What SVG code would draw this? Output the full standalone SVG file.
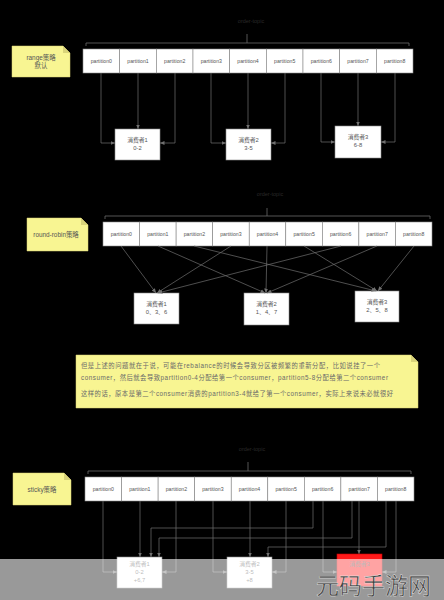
<svg xmlns="http://www.w3.org/2000/svg" width="444" height="600" viewBox="0 0 444 600">
<defs>
<marker id="ah" viewBox="0 0 10 10" refX="9" refY="5" markerWidth="5" markerHeight="5" orient="auto" markerUnits="userSpaceOnUse">
<path d="M0,1 L9,5 L0,9 z" fill="#707070"/>
</marker>
<style>
.bg{fill:#000}
.part{fill:#fff;stroke:#8a8a8a;stroke-width:0.6}
.pt{font-family:"Liberation Sans",Arial,sans-serif;font-size:5.2px;fill:#555;text-anchor:middle}
.cons{fill:#fff;stroke:#8a8a8a;stroke-width:0.6}
.ct{font-family:"Liberation Sans","Noto Sans CJK SC",sans-serif;font-size:5.8px;fill:#555;text-anchor:middle}
.note{fill:#f8f592;stroke:#d8d070;stroke-width:0.5}
.fold{fill:#d9d47a}
.nt{font-family:"Liberation Sans","Noto Sans CJK SC",sans-serif;font-size:6.4px;fill:#555;text-anchor:middle}
.lt{font-family:"Liberation Sans","Noto Sans CJK SC",sans-serif;font-size:6.3px;fill:#6a6a6a}
.conn{fill:none;stroke:#707070;stroke-width:0.7}
.br{fill:none;stroke:#6a6a6a;stroke-width:0.8}
.top{font-family:"Liberation Sans",Arial,sans-serif;font-size:5.5px;fill:#2a2a2a;text-anchor:middle}
</style>
</defs>
<rect class="bg" x="0" y="0" width="444" height="600"/>

<!-- Section 1: range -->
<g id="note-range">
<path class="note" d="M12 46 H63 L70 53 V77 H12 Z"/>
<path class="fold" d="M63 46 V53 H70 Z"/>
<text class="nt" x="41" y="60">range策略</text>
<text class="nt" x="41" y="68">默认</text>
</g>
<g id="topic1">
<text class="top" x="251" y="23">order-topic</text>
<path class="br" d="M86 46 V43 H409 V46 M247 43 V34"/>
</g>
<g id="partitions1">
<g id="r-p0"><rect class="part" x="83" y="49" width="36.67" height="24"/><text class="pt" x="101.3" y="63">partition0</text></g>
<g id="r-p1"><rect class="part" x="119.67" y="49" width="36.67" height="24"/><text class="pt" x="138" y="63">partition1</text></g>
<g id="r-p2"><rect class="part" x="156.33" y="49" width="36.67" height="24"/><text class="pt" x="174.7" y="63">partition2</text></g>
<g id="r-p3"><rect class="part" x="193" y="49" width="36.67" height="24"/><text class="pt" x="211.3" y="63">partition3</text></g>
<g id="r-p4"><rect class="part" x="229.67" y="49" width="36.67" height="24"/><text class="pt" x="248" y="63">partition4</text></g>
<g id="r-p5"><rect class="part" x="266.33" y="49" width="36.67" height="24"/><text class="pt" x="284.7" y="63">partition5</text></g>
<g id="r-p6"><rect class="part" x="303" y="49" width="36.67" height="24"/><text class="pt" x="321.3" y="63">partition6</text></g>
<g id="r-p7"><rect class="part" x="339.67" y="49" width="36.67" height="24"/><text class="pt" x="358" y="63">partition7</text></g>
<g id="r-p8"><rect class="part" x="376.33" y="49" width="36.67" height="24"/><text class="pt" x="394.7" y="63">partition8</text></g>
</g>
<g id="r-c1"><rect class="cons" x="115" y="129" width="45" height="31"/><text class="ct" x="137.5" y="142">消费者1</text><text class="ct" x="137.5" y="150">0-2</text></g>
<g id="r-c2"><rect class="cons" x="226" y="129" width="45" height="31"/><text class="ct" x="248.5" y="142">消费者2</text><text class="ct" x="248.5" y="150">3-5</text></g>
<g id="r-c3"><rect class="cons" x="335" y="126" width="46" height="32"/><text class="ct" x="358" y="139">消费者3</text><text class="ct" x="358" y="147">6-8</text></g>
<g id="connectors1">
<path class="conn" marker-end="url(#ah)" d="M101 73 V143 H115"/>
<path class="conn" marker-end="url(#ah)" d="M138 73 V129"/>
<path class="conn" marker-end="url(#ah)" d="M175 73 V143 H160"/>
<path class="conn" marker-end="url(#ah)" d="M211 73 V143 H226"/>
<path class="conn" marker-end="url(#ah)" d="M248 73 V129"/>
<path class="conn" marker-end="url(#ah)" d="M285 73 V143 H271"/>
<path class="conn" marker-end="url(#ah)" d="M321 73 V142 H335"/>
<path class="conn" marker-end="url(#ah)" d="M358 73 V126"/>
<path class="conn" marker-end="url(#ah)" d="M395 73 V142 H381"/>
</g>

<!-- Section 2: round-robin -->
<g id="note-rr">
<path class="note" d="M27 218 H81 L88 225 V251 H27 Z"/>
<path class="fold" d="M81 218 V225 H88 Z"/>
<text class="nt" x="56" y="237">round-robin策略</text>
</g>
<g id="topic2">
<text class="top" x="270" y="196">order-topic</text>
<path class="br" d="M105 219 V216 H430 V219 M267 216 V208"/>
</g>
<g id="partitions2">
<g id="rr-p0"><rect class="part" x="103" y="222" width="36.56" height="24"/><text class="pt" x="121.3" y="236">partition0</text></g>
<g id="rr-p1"><rect class="part" x="139.56" y="222" width="36.56" height="24"/><text class="pt" x="157.8" y="236">partition1</text></g>
<g id="rr-p2"><rect class="part" x="176.11" y="222" width="36.56" height="24"/><text class="pt" x="194.4" y="236">partition2</text></g>
<g id="rr-p3"><rect class="part" x="212.67" y="222" width="36.56" height="24"/><text class="pt" x="230.9" y="236">partition3</text></g>
<g id="rr-p4"><rect class="part" x="249.22" y="222" width="36.56" height="24"/><text class="pt" x="267.5" y="236">partition4</text></g>
<g id="rr-p5"><rect class="part" x="285.78" y="222" width="36.56" height="24"/><text class="pt" x="304.1" y="236">partition5</text></g>
<g id="rr-p6"><rect class="part" x="322.33" y="222" width="36.56" height="24"/><text class="pt" x="340.6" y="236">partition6</text></g>
<g id="rr-p7"><rect class="part" x="358.89" y="222" width="36.56" height="24"/><text class="pt" x="377.2" y="236">partition7</text></g>
<g id="rr-p8"><rect class="part" x="395.44" y="222" width="36.56" height="24"/><text class="pt" x="413.7" y="236">partition8</text></g>
</g>
<g id="rr-c1"><rect class="cons" x="134" y="293" width="45" height="31"/><text class="ct" x="156.5" y="306">消费者1</text><text class="ct" x="156.5" y="314">0、3、6</text></g>
<g id="rr-c2"><rect class="cons" x="244" y="293" width="45" height="32"/><text class="ct" x="266.5" y="306">消费者2</text><text class="ct" x="266.5" y="314">1、4、7</text></g>
<g id="rr-c3"><rect class="cons" x="355" y="291" width="44" height="31"/><text class="ct" x="377" y="304">消费者3</text><text class="ct" x="377" y="312">2、5、8</text></g>
<g id="connectors2">
<path class="conn" marker-end="url(#ah)" d="M121 246 L156 293"/>
<path class="conn" marker-end="url(#ah)" d="M158 246 L265 293"/>
<path class="conn" marker-end="url(#ah)" d="M194 246 L376 291"/>
<path class="conn" marker-end="url(#ah)" d="M231 246 L157 293"/>
<path class="conn" marker-end="url(#ah)" d="M267 246 L266 293"/>
<path class="conn" marker-end="url(#ah)" d="M304 246 L377 291"/>
<path class="conn" marker-end="url(#ah)" d="M341 246 L158 293"/>
<path class="conn" marker-end="url(#ah)" d="M377 246 L267 293"/>
<path class="conn" marker-end="url(#ah)" d="M414 246 L378 291"/>
</g>

<!-- Section 3: explanation note -->
<g id="note-explain">
<path class="note" d="M76 355 H411 L418 362 V408 H76 Z"/>
<path class="fold" d="M411 355 V362 H418 Z"/>
<text class="lt" x="81" y="368" textLength="299" lengthAdjust="spacing">但是上述的问题就在于说，可能在rebalance的时候会导致分区被频繁的重新分配，比如说挂了一个</text>
<text class="lt" x="81" y="380" textLength="307" lengthAdjust="spacing">consumer，然后就会导致partition0-4分配给第一个consumer，partition5-8分配给第二个consumer</text>
<text class="lt" x="81" y="396" textLength="312" lengthAdjust="spacing">这样的话，原本是第二个consumer消费的partition3-4就给了第一个consumer，实际上来说未必就很好</text>
</g>

<!-- Section 4: sticky -->
<g id="note-sticky">
<path class="note" d="M13 473 H64 L71 480 V505 H13 Z"/>
<path class="fold" d="M64 473 V480 H71 Z"/>
<text class="nt" x="42" y="492">sticky策略</text>
</g>
<g id="topic3">
<text class="top" x="252" y="451">order-topic</text>
<path class="br" d="M88 474 V471 H411 V474 M248 471 V462"/>
</g>
<g id="partitions3">
<g id="s-p0"><rect class="part" x="85" y="477" width="36.56" height="24"/><text class="pt" x="103.3" y="491">partition0</text></g>
<g id="s-p1"><rect class="part" x="121.56" y="477" width="36.56" height="24"/><text class="pt" x="139.8" y="491">partition1</text></g>
<g id="s-p2"><rect class="part" x="158.11" y="477" width="36.56" height="24"/><text class="pt" x="176.4" y="491">partition2</text></g>
<g id="s-p3"><rect class="part" x="194.67" y="477" width="36.56" height="24"/><text class="pt" x="212.9" y="491">partition3</text></g>
<g id="s-p4"><rect class="part" x="231.22" y="477" width="36.56" height="24"/><text class="pt" x="249.5" y="491">partition4</text></g>
<g id="s-p5"><rect class="part" x="267.78" y="477" width="36.56" height="24"/><text class="pt" x="286.1" y="491">partition5</text></g>
<g id="s-p6"><rect class="part" x="304.33" y="477" width="36.56" height="24"/><text class="pt" x="322.6" y="491">partition6</text></g>
<g id="s-p7"><rect class="part" x="340.89" y="477" width="36.56" height="24"/><text class="pt" x="359.2" y="491">partition7</text></g>
<g id="s-p8"><rect class="part" x="377.44" y="477" width="36.56" height="24"/><text class="pt" x="395.7" y="491">partition8</text></g>
</g>
<g id="connectors3">
<path class="conn" marker-end="url(#ah)" d="M103 501 V572 H117"/>
<path class="conn" marker-end="url(#ah)" d="M140 501 V557"/>
<path class="conn" marker-end="url(#ah)" d="M176 501 V572 H162"/>
<path class="conn" marker-end="url(#ah)" d="M213 501 V572 H227"/>
<path class="conn" marker-end="url(#ah)" d="M250 501 V557"/>
<path class="conn" marker-end="url(#ah)" d="M286 501 V572 H272"/>
<path class="conn" marker-end="url(#ah)" d="M323 501 V572 H337"/>
<path class="conn" marker-end="url(#ah)" d="M359 501 V554"/>
<path class="conn" marker-end="url(#ah)" d="M396 501 V572 H382"/>
<path class="conn" marker-end="url(#ah)" d="M313 501 V528 H151 V557"/>
<path class="conn" marker-end="url(#ah)" d="M352 501 V538 H159 V557"/>
<path class="conn" marker-end="url(#ah)" d="M386 501 V547 H268 V557"/>
</g>
<g id="s-c1"><rect class="cons" x="117" y="557" width="45" height="31"/><text class="ct" x="139.5" y="566">消费者1</text><text class="ct" x="139.5" y="574">0-2</text><text class="ct" x="139.5" y="582">+6,7</text></g>
<g id="s-c2"><rect class="cons" x="227" y="557" width="45" height="31"/><text class="ct" x="249.5" y="566">消费者2</text><text class="ct" x="249.5" y="574">3-5</text><text class="ct" x="249.5" y="582">+8</text></g>
<g id="s-c3"><rect x="337" y="554" width="45" height="32" fill="#ff1a1a" stroke="#cc0000" stroke-width="0.6"/><text class="ct" x="359.5" y="566" fill="#b00">消费者3</text></g>

<!-- watermark overlay -->
<rect x="0" y="559" width="444" height="41" fill="#ffffff" fill-opacity="0.6"/>
<text x="316" y="594" font-family="Noto Sans CJK SC, sans-serif" font-size="23" fill="#3a3a3a" stroke="#eeeeee" stroke-width="0.4">元码手游网</text>
</svg>
